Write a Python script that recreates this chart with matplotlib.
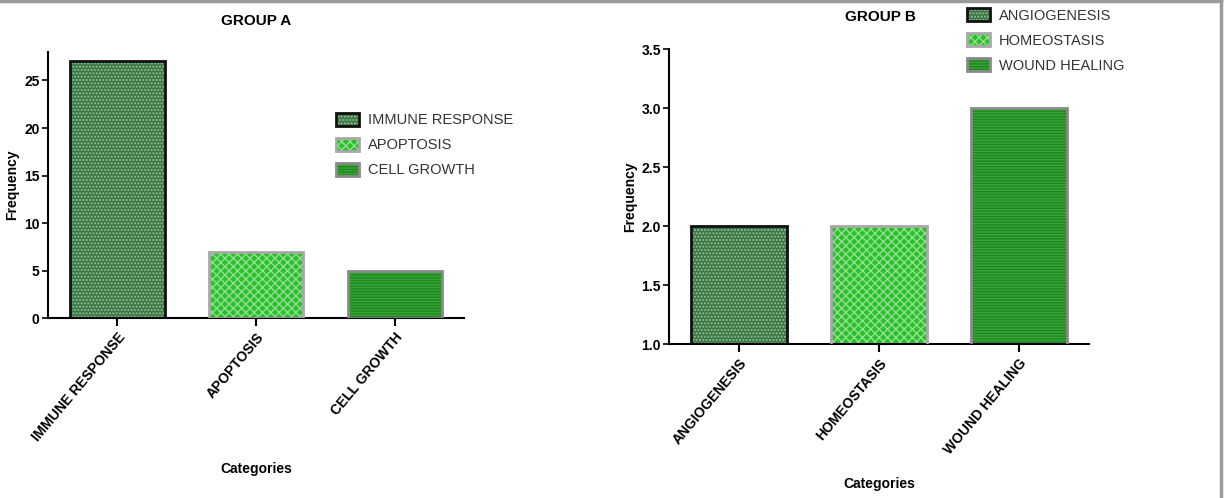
import matplotlib as mpl
mpl.use("agg")
import matplotlib.pyplot as plt
from matplotlib.lines import Line2D

plt.rcParams['font.family'] = ['Liberation Sans', 'DejaVu Sans']
plt.rcParams['hatch.linewidth'] = 1.0

# data
catsA = ["IMMUNE RESPONSE", "APOPTOSIS", "CELL GROWTH"]
freqA = [27, 7, 5]
catsB = ["ANGIOGENESIS", "HOMEOSTASIS", "WOUND HEALING"]
freqB = [2, 2, 3]

# bar styles (fill, hatch colour, hatch, outline)
faces = ['#3e7447', '#2cbf2c', '#1d8a1d']
hcols = ['#8cc58f', '#8fe08f', '#3aa23a']
hatches = ['.....', 'xxxx', '------']
edges = ['#111111', '#a8a8a8', '#8a8a8a']


def draw_panel(ax, cats, vals, ylim, yticks, yfmt):
    x = list(range(len(cats)))
    handles = []
    for i in x:
        b1 = ax.bar(i, vals[i], width=0.68, color=faces[i], edgecolor=hcols[i],
                    hatch=hatches[i], linewidth=0, zorder=2)
        b2 = ax.bar(i, vals[i], width=0.68, fill=False, edgecolor=edges[i],
                    linewidth=2, zorder=3)
        handles.append((b1[0], b2[0]))
    ax.set_xlim(-0.5, 2.5)
    ax.set_ylim(*ylim)
    ax.set_yticks(yticks)
    ax.set_yticklabels([yfmt.format(v) for v in yticks], fontsize=10, fontweight='bold')
    ax.set_xticks(x)
    ax.set_xticklabels(cats, rotation=50, ha='right', rotation_mode='anchor',
                       fontsize=10, fontweight='bold')
    for s in ['top', 'right']:
        ax.spines[s].set_visible(False)
    for s in ['left', 'bottom']:
        ax.spines[s].set_linewidth(1.5)
    ax.tick_params(axis='y', length=4, width=1.2, pad=2)
    ax.tick_params(axis='x', length=6, width=1.5, pad=3)
    ax.set_ylabel("Frequency", fontsize=10, fontweight='bold')
    ax.set_xlabel("Categories", fontsize=10, fontweight='bold')
    return handles


fig = plt.figure(figsize=(12.31, 4.98), dpi=100)

axA = fig.add_axes([0.039, 0.3614, 0.338, 0.5342])
hA = draw_panel(axA, catsA, freqA, (0, 28), [0, 5, 10, 15, 20, 25], "{:d}")
axA.xaxis.set_label_coords(0.5, -0.54)
axA.yaxis.set_label_coords(-0.07, 0.5)
fig.text(0.208, 0.958, "GROUP A", ha='center', va='center', fontsize=11, fontweight='bold')
axA.legend(hA, catsA, loc='upper left', bbox_to_anchor=(0.262, 0.8),
           bbox_transform=fig.transFigure, frameon=False, fontsize=10.5,
           handlelength=1.6, handleheight=1.0, labelspacing=0.72, handletextpad=0.6,
           labelcolor='#333333')

axB = fig.add_axes([0.5435, 0.3092, 0.3411, 0.5924])
hB = draw_panel(axB, catsB, freqB, (1.0, 3.5),
                [1.0, 1.5, 2.0, 2.5, 3.0, 3.5], "{:.1f}")
axB.xaxis.set_label_coords(0.5, -0.45)
axB.yaxis.set_label_coords(-0.076, 0.5)
fig.text(0.715, 0.965, "GROUP B", ha='center', va='center', fontsize=11, fontweight='bold')
axB.legend(hB, catsB, loc='upper left', bbox_to_anchor=(0.775, 1.01),
           bbox_transform=fig.transFigure, frameon=False, fontsize=10.5,
           handlelength=1.6, handleheight=1.0, labelspacing=0.72, handletextpad=0.6,
           labelcolor='#333333')

# image frame
fig.add_artist(Line2D([0, 0.992], [0.997, 0.997], color='#9a9a9a', lw=2.5,
                      transform=fig.transFigure))
fig.add_artist(Line2D([0.992, 0.992], [0, 0.997], color='#9a9a9a', lw=2.5,
                      transform=fig.transFigure))

plt.savefig("out.png", dpi=100)
